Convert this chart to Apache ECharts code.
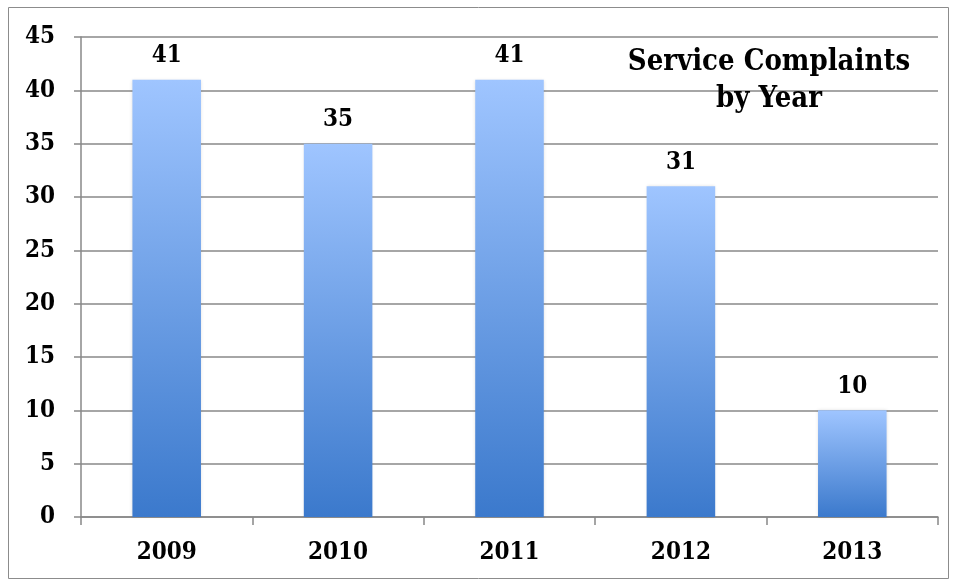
<!DOCTYPE html>
<html>
<head>
<meta charset="utf-8">
<style>
  html, body { margin: 0; padding: 0; background: #ffffff; }
  #chart { width: 956px; height: 583px; }
</style>
<script src="https://cdn.jsdelivr.net/npm/echarts@6/dist/echarts.min.js"></script>
</head>
<body>
<div id="chart"></div>
<script>
// Yearly service complaint counts
const years = ['2009', '2010', '2011', '2012', '2013'];
const complaints = [41, 35, 41, 31, 10];
const yTicks = [0, 5, 10, 15, 20, 25, 30, 35, 40, 45];

const serifFont = '"DejaVu Serif Condensed", "DejaVu Serif", serif';
const gridColor = '#888888';

const chart = echarts.init(document.getElementById('chart'), null, { renderer: 'canvas' });

const barFill = new echarts.graphic.LinearGradient(0, 0, 0, 1, [
  { offset: 0, color: '#9fc5ff' },
  { offset: 1, color: '#3b79cc' }
]);

chart.setOption({
  animation: false,
  backgroundColor: '#ffffff',
  title: {
    text: 'Service Complaints\nby Year',
    left: 764,
    top: 39,
    textAlign: 'center',
    textStyle: {
      fontFamily: serifFont,
      fontWeight: 'bold',
      fontSize: 29,
      lineHeight: 37,
      color: '#000000'
    }
  },
  graphic: [{
    type: 'rect',
    shape: { x: 8.5, y: 7.5, width: 940, height: 571 },
    style: { fill: 'none', stroke: '#8c8c8c', lineWidth: 1 },
    silent: true,
    z: -1
  }],
  grid: { left: 81, right: 18, top: 37, bottom: 66 },
  xAxis: {
    type: 'category',
    data: years,
    axisLine: { lineStyle: { color: gridColor, width: 1.5 } },
    axisTick: { show: true, alignWithLabel: false, length: 8, lineStyle: { color: gridColor, width: 1.5 } },
    axisLabel: {
      margin: 24,
      fontFamily: serifFont,
      fontWeight: 'bold',
      fontSize: 24,
      color: '#000000'
    }
  },
  yAxis: {
    type: 'value',
    min: yTicks[0],
    max: yTicks[yTicks.length - 1],
    interval: yTicks[1] - yTicks[0],
    axisLine: { show: true, lineStyle: { color: gridColor, width: 1.5 } },
    axisTick: { show: true, length: 7, lineStyle: { color: gridColor, width: 1.5 } },
    splitLine: { lineStyle: { color: gridColor, width: 1.5 } },
    axisLabel: {
      margin: 26,
      fontFamily: serifFont,
      fontWeight: 'bold',
      fontSize: 24,
      color: '#000000'
    }
  },
  series: [{
    type: 'bar',
    data: complaints,
    barWidth: '40%',
    itemStyle: {
      color: barFill,
      shadowBlur: 3,
      shadowColor: 'rgba(0,0,0,0.12)'
    },
    label: {
      show: true,
      position: 'top',
      distance: 12,
      fontFamily: serifFont,
      fontWeight: 'bold',
      fontSize: 24,
      color: '#000000'
    }
  }]
});
</script>
</body>
</html>
